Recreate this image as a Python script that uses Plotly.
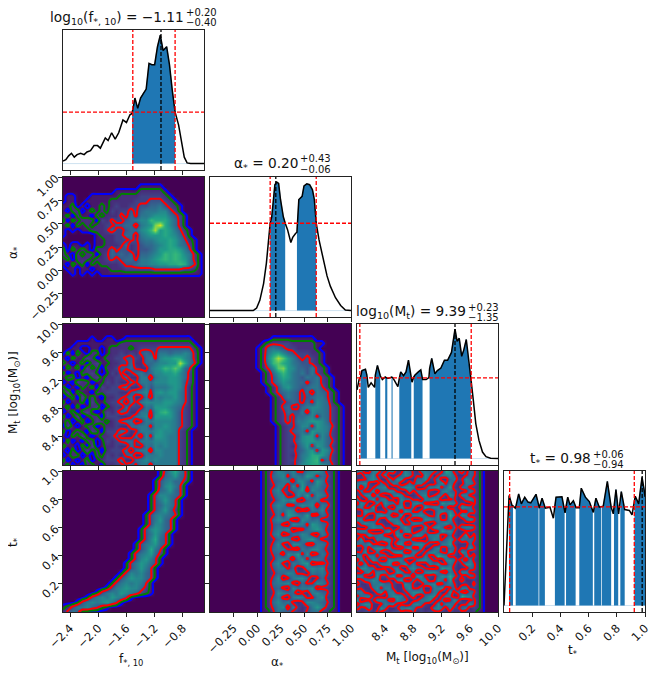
import numpy as np
import plotly.graph_objects as go

# --- 1D posteriors (x, normalised density) ---
f_x = [-2.5,-2.46,-2.42,-2.38,-2.34,-2.30,-2.25,-2.20,-2.16,-2.11,-2.06,-2.01,-1.97,-1.90,-1.86,-1.81,-1.76,-1.71,-1.65,-1.60,-1.55,-1.52,-1.48,-1.44,-1.40,-1.36,-1.32,-1.28,-1.24,-1.20,-1.16,-1.12,-1.08,-1.03,-0.99,-0.95,-0.91,-0.86,-0.81,-0.78,-0.74,-0.69,-0.5]
f_y = [.02,.03,.06,.08,.05,.07,.08,.07,.09,.10,.14,.14,.12,.20,.18,.24,.19,.24,.34,.32,.38,.39,.51,.43,.51,.55,.58,.78,.77,.77,.91,1.0,.88,.91,.77,.57,.40,.30,.16,.05,.005,0,0]
f_bands = [(-1.52,-0.91)]

a_x = [-.5,-.04,-.004,.03,.07,.10,.14,.157,.175,.19,.21,.23,.25,.28,.30,.325,.36,.38,.41,.425,.445,.48,.50,.53,.56,.59,.61,.63,.66,.71,.745,.78,.835,.89,.94,1.0]
a_y = [0,0,.02,.08,.21,.37,.68,.73,.865,.98,1,.99,.865,.73,.68,.63,.53,.57,.60,.61,.865,.89,.97,.987,.98,.94,.865,.68,.55,.37,.27,.19,.10,.04,.005,0]
a_bands = [(.14,.30),(.425,.63)]

m_x = [8.00,8.03,8.05,8.07,8.12,8.14,8.16,8.20,8.25,8.26,8.29,8.33,8.36,8.40,8.43,8.45,8.49,8.505,8.53,8.58,8.60,8.62,8.66,8.695,8.73,8.77,8.78,8.805,8.82,8.87,8.905,8.93,8.98,9.02,9.03,9.06,9.105,9.14,9.19,9.24,9.285,9.34,9.39,9.42,9.45,9.485,9.515,9.55,9.585,9.615,9.65,9.685,9.73,9.78,9.83,9.895,10.0]
m_y = [.53,.61,.63,.68,.69,.645,.55,.585,.55,.645,.72,.64,.61,.63,.62,.62,.63,.625,.605,.555,.62,.67,.64,.67,.76,.605,.59,.63,.645,.67,.685,.61,.61,.625,.695,.775,.655,.68,.70,.76,.76,.82,1.0,.905,.93,.79,.84,.92,.735,.62,.45,.27,.14,.05,.015,.003,0]
m_bands = [(8.05,8.14),(8.26,8.33),(8.40,8.43),(8.49,8.505),(8.60,8.77),(8.805,8.93),(9.03,9.615)]

t_x = [0,.036,.057,.064,.08,.083,.104,.123,.147,.17,.19,.227,.245,.25,.27,.29,.293,.326,.35,.361,.369,.411,.43,.433,.44,.452,.468,.492,.508,.511,.534,.548,.577,.605,.63,.634,.64,.652,.676,.69,.695,.704,.733,.757,.76,.775,.78,.794,.81,.813,.825,.832,.856,.889,.908,.925,.931,.955,.979,.993,1.0]
t_y = [0,.85,.773,.77,.753,.76,.863,.786,.838,.80,.794,.86,.78,.753,.83,.76,.753,.76,.675,.77,.838,.84,.73,.716,.765,.838,.778,.81,.765,.755,.755,.907,.838,.804,.73,.72,.76,.83,.76,.765,.766,.768,.959,.768,.76,.709,.76,.897,.74,.709,.82,.881,.742,.735,.70,.80,.845,.786,.99,.90,.84]
t_bands = [(.036,.064),(.083,.245),(.25,.29),(.361,.43),(.44,.508),(.534,.63),(.64,.69),(.695,.76),(.78,.81),(.825,.856),(.925,1.0)]

# interval limits, median and height of the dashed guides
f_lines = (-1.51, -0.91, -1.11, .40)
a_lines = (.14, .63, .20, .68)
m_lines = (8.04, 9.62, 9.39, .624)
t_lines = (.04, .924, .98, .763)

# --- 2D histograms, top row first, one hex digit per cell ---
hist_f_a = [
"0","0",
"000000000000000011111000000000",
"000000000001111122222100000000",
"011000111111222233333210000000",
"011001111122222333444321000000",
"112010112123223344556432100000",
"102201212132334356667743100000",
"120211021222435366788864310000",
"202122203243345677a99975310000",
"120212122334455267" "8ce975310000",
"101011222353345578ad8986421000",
"100000012223355267888987531000",
"000000011223334356678898642100",
"101101011222352345567898653100",
"202121022253442344568899864100",
"210212202354545255678a9a976310",
"120222122343455366789a9a986310",
"102120212222344566778899a96410",
"011011011122233333344444433210",
"001010101111111111111111111110",
"0","0","0","0","0","0","0","0","0",
]
hist_f_m = [
"0","0","0",
"000000100110011111111111111000",
"000111111111222222222222222100",
"001100110122221233334444444210",
"020210220122323245436656676310",
"102113201223344325637889976310",
"210120231122335225567788d96410",
"021203120223445322678a9b954100",
"201022310132423564577889753100",
"122010231223352266267788753100",
"010322011323225366577788743100",
"201021203233452236466678742100",
"130211022333224567378788642100",
"012031210223345226276778642100",
"201120311233525367777887642100",
"120201230123253326588876532100",
"012023101323542266379a86432100",
"201301220333223567288886432100",
"120120132123455236677776432100",
"031012201223225566377876432100",
"201210320333542366678776321000",
"102131012234322527388766321000",
"020102201323455366677766321000",
"211020301223225326576766321000",
"102013120233352566277666321000",
"012201021323245226667666321000",
"201012012333522567676666321000",
"120102210223345366266666321000",
]
hist_a_m = [
"0","0","0",
"0000000000000111111111",
"000000000001233332222211",
"00000000001256543322221",
"000000000012689754333221",
"0000000000127adb86434321",
"0000000000126ab986544321",
"00000000001247bc875546321",
"000000000001258a865646321",
"00000000000124798654656321",
"00000000000124687655356321",
"00000000000012478654566421",
"000000000000124565435265421",
"000000000000012465434566421",
"000000000000012345435376521",
"0000000000000124533567765321",
"0000000000000123544627665321",
"0000000000000123435567365321",
"0000000000000123436678875321",
"0000000000000012335773876421",
"0000000000000012345638776321",
"0000000000000012334788375321",
"0000000000000012335788775421",
"0000000000000012324683875321",
"0000000000000012334578387421",
"0000000000000012324679986321",
"0000000000000012334689a35321",
"0000000000000012325789986421",
]
hist_f_t = [
"000000000000000000001479641",
"000000000000000000001568541",
"000000000000000000014675531",
"00000000000000000001478641",
"00000000000000000001568541",
"00000000000000000014776541",
"0000000000000000001468641",
"0000000000000000001457641",
"0000000000000000001468531",
"0000000000000000014676541",
"000000000000000001468541",
"000000000000000001477541",
"000000000000000014787541",
"00000000000000001468641",
"00000000000000001479541",
"00000000000000014678541",
"0000000000000001469641",
"0000000000000014678531",
"000000000000001478641",
"000000000000014687541",
"00000000000001468641",
"00000000000014767541",
"00000000000146877541",
"0000000000146767641",
"0000000001467877531",
"0000000146768765321",
"000001467687641",
"0001467678641",
"1246675421",
"24641",
]
hist_a_t = [
"000000000001247657336786321",
"000000000001256736658735421",
"000000000001245662775386321",
"000000000001236627384675421",
"000000000001257335682765321",
"000000000001246622758376421",
"000000000001235768325663321",
"000000000001257633576726521",
"000000000001246576232657321",
"000000000001236387658335421",
"000000000001257652276563321",
"000000000001245327663875421",
"000000000001246672335786321",
"000000000001257235576326421",
"000000000001235763267853321",
"000000000001247327753266421",
"000000000001256633265775321",
"000000000001245276837236421",
"000000000001236752673665321",
"000000000001257326578233421",
"000000000001246635226767321",
"000000000001235576332656421",
"000000000001247236775235321",
"000000000001256673253376421",
"000000000001245327566723321",
"000000000001237655232675421",
"000000000001246326763367321",
"000000000001257563237765421",
"000000000001246726323686321",
"000000000001136453224552211",
]
hist_m_t = [
"55226733562275326655329733625421",
"32557336222576332752366752235421",
"23367522637732255733622563375321",
"66732253365225366322573642266421",
"72533667223577622366735832553321",
"25336255763226355532267543236421",
"33672532257632236723552752663321",
"62257366332755332667523342257421",
"27522637553622675332286763322421",
"56337225326733522756635232765321",
"22765332655276335223675742335421",
"33522676523722667533722953762321",
"76233522766335223775633732257421",
"25766332257623665322567542322321",
"32257663322575322636753253566421",
"56632225736367235522386742233321",
"23375563227622576366723532372421",
"37222657633555322257635743655421",
"65573322526732677532266832225321",
"22536775632257336225733552337421",
"33722532367722653367532742752321",
"75266355223376522633976232263421",
"26337522766632257753226753526321",
"52622366732573632265733642377421",
"37755223356226755322387732225421",
"22573665227633522677532642663321",
"66322733573365277332576953335421",
"33557622326722536622753832522321",
"52236675532276322567335642232421",
"23225736632257335226673352663321",
"66322573662235776336522735325421",
"35663222577633622577336522976321",
"72233665327552236673252375223421",
"25772236563322675322736652337421",
"53362275223667533226752633562321",
"22322432233322423232322322322211",
]

# --- axis ticks ---
f_ticks = [-2.4, -2.0, -1.6, -1.2, -0.8]
a_ticks = [-0.25, 0.0, 0.25, 0.5, 0.75, 1.0]
m_ticks = [8.4, 8.8, 9.2, 9.6, 10.0]
t_ticks = [0.2, 0.4, 0.6, 0.8, 1.0]
f_labels = ["\u22122.4", "\u22122.0", "\u22121.6", "\u22121.2", "\u22120.8"]
a_labels = ["\u22120.25", "0.00", "0.25", "0.50", "0.75", "1.00"]
m_labels = ["8.4", "8.8", "9.2", "9.6", "10.0"]
t_labels = ["0.2", "0.4", "0.6", "0.8", "1.0"]

ranges = [(-2.5, -0.5), (-0.5, 1.0), (8.0, 10.0), (0.0, 1.0)]
ticks = [f_ticks, a_ticks, m_ticks, t_ticks]
labels = [f_labels, a_labels, m_labels, t_labels]

# the page keeps its 8px body margin, so the figure sits at (8, 8) in the window
PAGE = 8
W, H = 649, 664
col_px = [(63, 204), (210, 351), (357, 498), (504, 645)]
row_px = [(30, 170), (177, 317), (324, 465), (471, 612)]
FONT = "DejaVu Sans"


def fx(px):
    return (px - PAGE) / W


def fy(py):
    return 1 - (py - PAGE) / H


fig = go.Figure()
axis_n = 0
layout = {}


def add_panel(i, j):
    """create the axes for row i, column j and return their trace names"""
    global axis_n
    axis_n += 1
    xn = "xaxis" if axis_n == 1 else f"xaxis{axis_n}"
    yn = "yaxis" if axis_n == 1 else f"yaxis{axis_n}"
    xs = "x" if axis_n == 1 else f"x{axis_n}"
    ys = "y" if axis_n == 1 else f"y{axis_n}"
    common = dict(showgrid=False, zeroline=False, showline=True, mirror=True, automargin=False,
                  linecolor="#222", linewidth=1, ticks="outside", ticklen=4,
                  tickwidth=1, tickcolor="#222", tickfont=dict(family=FONT, size=11.5, color="#111"))
    layout[xn] = dict(common, domain=[fx(col_px[j][0]), fx(col_px[j][1])], anchor=ys,
                      range=ranges[j], tickmode="array", tickvals=ticks[j], tickangle=-45,
                      ticktext=labels[j], showticklabels=(i == 3))
    if i == j:
        layout[yn] = dict(common, domain=[fy(row_px[i][1]), fy(row_px[i][0])], anchor=xs,
                          range=[-0.05, 1.04], ticks="", showticklabels=False)
    else:
        layout[yn] = dict(common, domain=[fy(row_px[i][1]), fy(row_px[i][0])], anchor=xs,
                          range=ranges[i], tickmode="array", tickvals=ticks[i], tickangle=-45,
                          ticktext=labels[i], showticklabels=(j == 0))
    return xs, ys


def parse_grid(rows):
    n = len(rows)
    rows = [r.ljust(n, "0")[:n] for r in rows]
    return [[int(c, 16) for c in r] for r in rows[::-1]]


def add_2d(i, j, rows):
    xs, ys = add_panel(i, j)
    z = parse_grid(rows)
    x = np.linspace(*ranges[j], len(rows))
    y = np.linspace(*ranges[i], len(rows))
    fig.add_trace(go.Heatmap(x=x, y=y, z=z, colorscale="Viridis", zmin=0, zmax=15,
                             zsmooth="best", showscale=False, xaxis=xs, yaxis=ys, hoverinfo="skip"))
    for level, colour in [(0.5, "blue"), (1.5, "green"), (3.5, "red")]:
        fig.add_trace(go.Contour(x=x, y=y, z=z, autocontour=False,
                                 contours=dict(start=level, end=level, size=1, coloring="none"),
                                 line=dict(color=colour, width=2, smoothing=0.3),
                                 showscale=False, xaxis=xs, yaxis=ys, hoverinfo="skip"))


def add_1d(i, xv, yv, bands, guides):
    xs, ys = add_panel(i, i)
    xv, yv = np.array(xv), np.array(yv)
    fig.add_trace(go.Scatter(x=list(ranges[i]), y=[0, 0], mode="lines", xaxis=xs, yaxis=ys,
                             line=dict(color="#cfe2f0", width=1)))
    for lo, hi in bands:
        keep = (xv >= lo) & (xv <= hi)
        fig.add_trace(go.Scatter(x=xv[keep], y=yv[keep], mode="lines", fill="tozeroy", xaxis=xs, yaxis=ys,
                                 fillcolor="#1f77b4", line=dict(color="#1f77b4", width=0.5)))
    fig.add_trace(go.Scatter(x=xv, y=yv, mode="lines", xaxis=xs, yaxis=ys,
                             line=dict(color="black", width=1.5)))
    lo, hi, med, level = guides
    for v, colour in [(lo, "red"), (hi, "red"), (med, "black")]:
        fig.add_shape(type="line", xref=xs, yref=f"{ys} domain", x0=v, x1=v, y0=0, y1=1,
                      line=dict(color=colour, width=1.3, dash="4px,2px"))
    fig.add_shape(type="line", xref=f"{xs} domain", yref=ys, x0=0, x1=1, y0=level, y1=level,
                  line=dict(color="red", width=1.3, dash="4px,2px"))


add_1d(0, f_x, f_y, f_bands, f_lines)
add_2d(1, 0, hist_f_a)
add_1d(1, a_x, a_y, a_bands, a_lines)
add_2d(2, 0, hist_f_m)
add_2d(2, 1, hist_a_m)
add_1d(2, m_x, m_y, m_bands, m_lines)
add_2d(3, 0, hist_f_t)
add_2d(3, 1, hist_a_t)
add_2d(3, 2, hist_m_t)
add_1d(3, t_x, t_y, t_bands, t_lines)


def text(px, py, s, size, xanchor="center", angle=0):
    return dict(x=fx(px), y=fy(py), xref="paper", yref="paper", text=s, showarrow=False,
                xanchor=xanchor, yanchor="middle", textangle=angle,
                font=dict(family=FONT, size=size, color="#111"))


notes = [
    text(131, 660, "f<sub>*, 10</sub>", 12),
    text(277, 663, "\u03b1<sub>*</sub>", 12),
    text(427, 658, "M<sub>t</sub> [log<sub>10</sub>(M<sub>\u2299</sub>)]", 12),
    text(572, 651, "t<sub>*</sub>", 12),
    text(14, 253, "\u03b1<sub>*</sub>", 12, angle=-90),
    text(14, 393, "M<sub>t</sub> [log<sub>10</sub>(M<sub>\u2299</sub>)]", 12, angle=-90),
    text(14, 543, "t<sub>*</sub>", 12, angle=-90),
]
titles = [
    ("log<sub>10</sub>(f<sub>*, 10</sub>) = \u22121.11", "+0.20", "\u22120.40", 186, 18),
    ("\u03b1<sub>*</sub> = 0.20", "+0.43", "\u22120.06", 300, 164),
    ("log<sub>10</sub>(M<sub>t</sub>) = 9.39", "+0.23", "\u22121.35", 468, 312),
    ("t<sub>*</sub> = 0.98", "+0.06", "\u22120.94", 593, 459),
]
for base, plus, minus, right, mid in titles:
    notes.append(text(right, mid, base, 13.7, xanchor="right"))
    notes.append(text(right - 2, mid - 5, plus, 10, xanchor="left"))
    notes.append(text(right - 2, mid + 5, minus, 10, xanchor="left"))

fig.update_layout(width=W, height=H, autosize=False, margin=dict(l=0, r=0, t=0, b=0),
                  paper_bgcolor="white", plot_bgcolor="white", showlegend=False,
                  annotations=notes, **layout)

fig.write_html("out.html")
